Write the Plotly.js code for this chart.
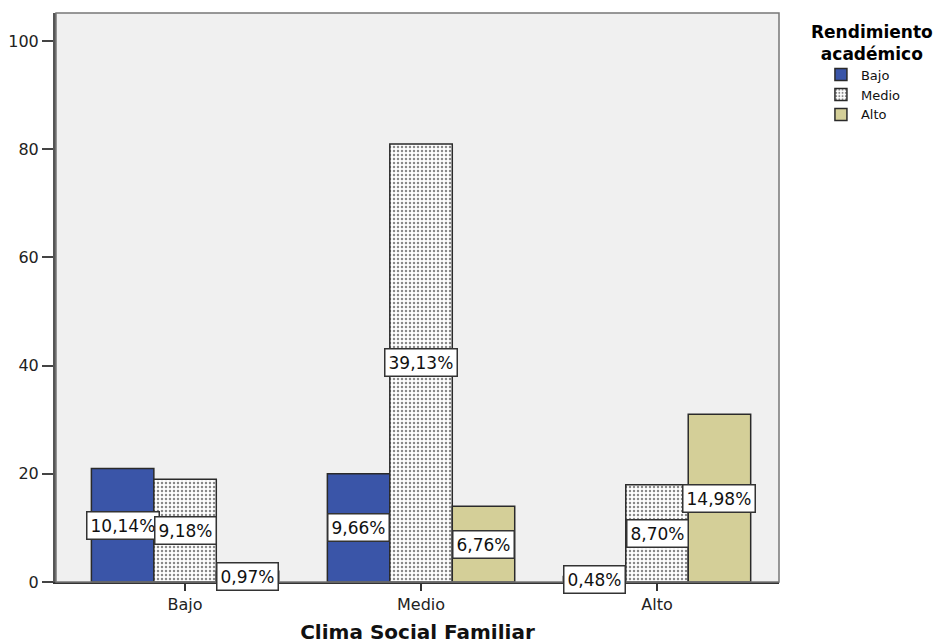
<!DOCTYPE html>
<html>
<head>
<meta charset="utf-8">
<script src="https://cdn.plot.ly/plotly-3.0.1.min.js"></script>
<style>html,body{margin:0;padding:0;background:#fff;}#chart{width:946px;height:644px;}</style>
</head>
<body>
<div id="chart"></div>
<script>
const categories = ["Bajo", "Medio", "Alto"];
const seriesNames = ["Bajo", "Medio", "Alto"];
const countsBajo = [21, 20, 1];
const countsMedio = [19, 81, 18];
const countsAlto = [2, 14, 31];
const pctBajo = ["10,14%", "9,66%", "0,48%"];
const pctMedio = ["9,18%", "39,13%", "8,70%"];
const pctAlto = ["0,97%", "6,76%", "14,98%"];
const yTicks = [0, 20, 40, 60, 80, 100];
const legendTitle = "Rendimiento<br>académico";
const xTitle = "Clima Social Familiar";

const FONT = "DejaVu Sans, Verdana, sans-serif";
const allCounts = [countsBajo, countsMedio, countsAlto];
const allPct = [pctBajo, pctMedio, pctAlto];
const colors = ["#3a55a8", "#ffffff", "#d4cf98"];
const xIdx = categories.map((c, i) => i);

const traces = seriesNames.map((name, j) => {
  const marker = {color: colors[j], line: {color: "#2a2a2a", width: 1.5}};
  if (j === 1) {
    marker.pattern = {shape: ".", fgcolor: "#8a8a8a", bgcolor: "#ffffff", size: 4, solidity: 0.3};
  }
  return {type: "bar", name: name, x: xIdx, y: allCounts[j], marker: marker, hoverinfo: "skip"};
});

const bargap = 0.206;
const barW = (1 - bargap) / 3;
const annotations = [];
allCounts.forEach((vals, j) => {
  vals.forEach((v, i) => {
    annotations.push({
      x: i + (j - 1) * barW, y: v / 2, xref: "x", yref: "y",
      text: allPct[j][i], showarrow: false,
      bgcolor: "#ffffff", bordercolor: "#333333", borderwidth: 1.5, borderpad: 3,
      font: {family: FONT, size: 17, color: "#111"}
    });
  });
});
annotations.push({
  xref: "paper", yref: "paper", x: 1.128, y: 0.988, xanchor: "center", yanchor: "top",
  text: legendTitle, showarrow: false, align: "center",
  font: {family: FONT, size: 17, color: "#000", weight: "bold"}
});

const layout = {
  width: 946, height: 644,
  margin: {l: 56, r: 167, t: 13, b: 62},
  paper_bgcolor: "#ffffff", plot_bgcolor: "#f0f0f0",
  barmode: "group", bargap: bargap, bargroupgap: 0,
  font: {family: FONT, size: 14, color: "#222"},
  xaxis: {
    range: [-0.547, 2.517], tickvals: xIdx, ticktext: categories,
    ticks: "outside", ticklen: 7, tickwidth: 1.5, tickcolor: "#333",
    showline: true, linecolor: "#333", linewidth: 1.5, showgrid: false, zeroline: false,
    tickfont: {family: FONT, size: 16, color: "#222"},
    title: {text: xTitle, standoff: 12,
            font: {family: FONT, size: 20, color: "#111", weight: "bold"}}
  },
  yaxis: {
    range: [0, 105.2], tickvals: yTicks, ticktext: yTicks.map(String),
    ticks: "outside", ticklen: 11, tickwidth: 2, tickcolor: "#444",
    showline: true, linecolor: "#555", linewidth: 3, showgrid: false, zeroline: false,
    tickfont: {family: FONT, size: 16, color: "#222"}
  },
  showlegend: true,
  legend: {
    x: 1.058, xanchor: "left", y: 0.918, yanchor: "top",
    bgcolor: "rgba(0,0,0,0)", tracegroupgap: 0, itemwidth: 30,
    font: {family: FONT, size: 13, color: "#111"}
  },
  shapes: [{type: "rect", xref: "paper", yref: "paper", x0: 0, x1: 1, y0: 0, y1: 1,
            line: {color: "#777", width: 1.5}, fillcolor: "rgba(0,0,0,0)", layer: "above"}],
  annotations: annotations
};

Plotly.newPlot("chart", traces, layout, {displayModeBar: false, staticPlot: true});
</script>
</body>
</html>
